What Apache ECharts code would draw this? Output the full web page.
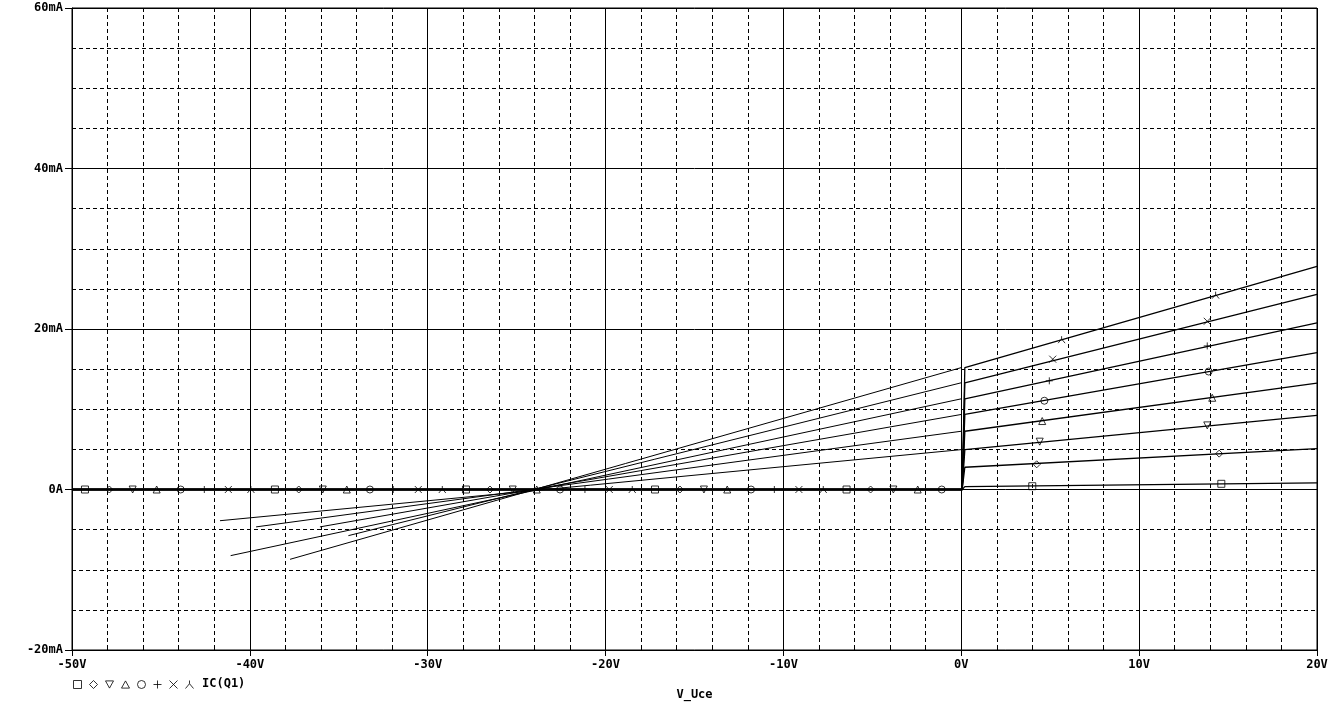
<!DOCTYPE html>
<html>
<head>
<meta charset="utf-8">
<script src="https://cdn.jsdelivr.net/npm/echarts@6/dist/echarts.min.js"></script>
<style>
html,body{margin:0;padding:0;background:#fff;overflow:hidden;}
#c{width:1339px;height:706px;}
</style>
</head>
<body>
<div id="c"></div>
<script>
// ---- data ----
const traceNames = ['t0','t1','t2','t3','t4','t5','t6','t7'];
const xTickValues = [-50,-40,-30,-20,-10,0,10,20];
const yTickValues = [-20,0,20,40,60];
const sweepStartV = -50;
const kneeStartV = 0.05;
const kneeEndV = 0.2;
const sweepEndV = 20;
// current at knee (~0V) and at 20V, mA
const currentAtKnee = [0.36, 2.77, 4.97, 7.26, 9.35, 11.3, 13.3, 15.19];
const currentAt20V = [0.83, 5.09, 9.23, 13.25, 17.06, 20.75, 24.31, 27.79];
// diagonal (reverse) lines: start point, they end at 0V at currentAtKnee
const diagStartV = [null, null, -41.68, -39.65, -36.06, -41.08, -34.46, -37.74];
const diagStartI = [null, null, -3.89, -4.66, -4.66, -8.24, -5.75, -8.70];
// marker positions on every trace
const markerV = [
  [-49.27,-38.59,-27.85,-17.22,-6.45,3.99,14.62],
  [-47.90,-37.25,-26.50,-15.82,-5.10,4.24,14.50],
  [-46.59,-35.90,-25.22,-14.47,-3.82,4.41,13.83],
  [-45.24,-34.55,-23.87,-13.16,-2.45,4.55,14.11],
  [-43.89,-33.25,-22.56,-11.82,-1.10,4.67,13.91],
  [-42.56,-31.94,-21.16,-10.51,4.95,13.83],
  [-41.21,-30.53,-19.79,-9.13,5.14,13.83],
  [-39.94,-29.18,-18.50,-7.76,5.64,14.30]
];
const markerI = [
  [0,0,0,0,0,0.41,0.71],
  [0,0,0,0,0,3.14,4.47],
  [0,0,0,0,0,5.96,7.99],
  [0,0,0,0,0,8.53,11.43],
  [0,0,0,0,0,11.06,14.70],
  [0,0,0,0,13.54,17.89],
  [0,0,0,0,16.24,20.96],
  [0,0,0,0,18.67,24.22]
];
const legendLabel = 'IC(Q1)';
const xTitle = 'V_Uce';

// ---- styling ----
const FONT = 'DejaVu Sans Mono';
const symbolPaths = [
  'path://M0 0 L10 0 L10 10 L0 10 Z',
  'path://M5 0 L10 5 L5 10 L0 5 Z',
  'path://M0 0 L10 0 L5 9 Z',
  'path://M5 0 L10 9 L0 9 Z',
  'circle',
  'path://M5 0 L5 10 M0 5 L10 5',
  'path://M0 0 L10 10 M10 0 L0 10',
  'path://M5 0 L5 4 M0 10 L5 4 L10 10'
];

const series = [];
traceNames.forEach((n, i) => {
  series.push({
    name: n + '_line', type: 'line', xAxisIndex: 0, yAxisIndex: 0,
    showSymbol: false, symbol: 'none', silent: true, animation: false,
    lineStyle: {color: '#000', width: 1.3},
    data: [[sweepStartV, 0], [kneeStartV, 0], [kneeEndV, currentAtKnee[i]], [sweepEndV, currentAt20V[i]]],
    z: 5
  });
  if (diagStartV[i] !== null) {
    series.push({
      name: n + '_diag', type: 'line', xAxisIndex: 0, yAxisIndex: 0,
      showSymbol: false, symbol: 'none', silent: true, animation: false,
      lineStyle: {color: '#000', width: 1},
      data: [[diagStartV[i], diagStartI[i]], [0, currentAtKnee[i]]],
      z: 5
    });
  }
  series.push({
    name: n, type: 'scatter', xAxisIndex: 0, yAxisIndex: 0,
    symbol: symbolPaths[i], symbolSize: 7, animation: false,
    itemStyle: {color: 'rgba(0,0,0,0)', borderColor: '#000', borderWidth: 1},
    data: markerV[i].map((v, k) => [v, markerI[i][k]]),
    z: 6
  });
});

const labelStyle = {color: '#000', fontFamily: FONT, fontWeight: 'bold', fontSize: 12};

const option = {
  backgroundColor: '#fff',
  animation: false,
  grid: {left: 72, width: 1245, top: 8, height: 644, show: true, borderColor: '#000', borderWidth: 1, backgroundColor: 'transparent'},
  legend: {
    data: traceNames, left: 73, top: 680, itemWidth: 8, itemHeight: 8, itemGap: 7,
    formatter: () => '', selectedMode: false, padding: 0,
    itemStyle: {color: 'rgba(0,0,0,0)', borderColor: '#000', borderWidth: 1},
    textStyle: {fontSize: 1}
  },
  graphic: [{
    type: 'text', left: 202, top: 678,
    style: {text: legendLabel, fill: '#000', font: 'bold 12px "DejaVu Sans Mono"'}
  }],
  xAxis: [{
    type: 'value', min: -50, max: 20, interval: 10,
    axisLine: {show: true, onZero: false, lineStyle: {color: '#000', width: 1}},
    axisTick: {show: true, length: 6, lineStyle: {color: '#000'}},
    axisLabel: Object.assign({margin: 9, formatter: v => v + 'V'}, labelStyle),
    splitLine: {show: true, lineStyle: {color: '#000', width: 1}},
    minorTick: {show: false, splitNumber: 5},
    minorSplitLine: {show: true, lineStyle: {color: '#000', width: 1, type: [4, 3]}},
    name: xTitle, nameLocation: 'middle', nameGap: 39,
    nameTextStyle: labelStyle
  }, {
    type: 'value', min: -50, max: 20, interval: 10, position: 'bottom',
    axisLine: {show: false, onZero: false},
    axisTick: {show: false, inside: true},
    axisLabel: {show: false},
    splitLine: {show: false},
    minorTick: {show: true, splitNumber: 5, length: 5, lineStyle: {color: '#000'}},
    minorSplitLine: {show: false}
  }],
  yAxis: {
    type: 'value', min: -20, max: 60, interval: 20,
    axisLine: {show: true, onZero: false, lineStyle: {color: '#000', width: 1}},
    axisTick: {show: true, length: 7, lineStyle: {color: '#000'}},
    axisLabel: Object.assign({margin: 9, formatter: v => (v === 0 ? '0A' : v + 'mA')}, labelStyle),
    splitLine: {show: true, lineStyle: {color: '#000', width: 1}},
    minorTick: {show: false, splitNumber: 4},
    minorSplitLine: {show: true, lineStyle: {color: '#000', width: 1, type: [4, 3]}}
  },
  series: series
};

const chart = echarts.init(document.getElementById('c'), null, {renderer: 'canvas'});
chart.setOption(option);
</script>
</body>
</html>
